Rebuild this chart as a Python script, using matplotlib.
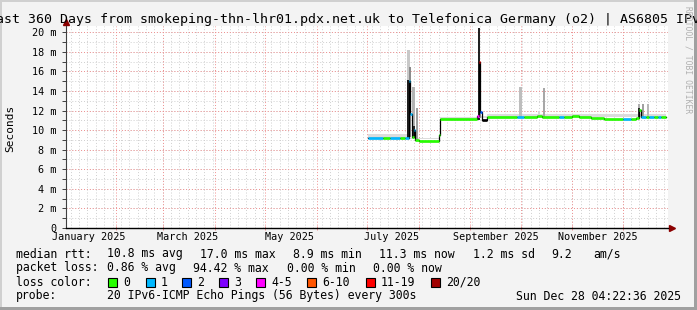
import numpy as np
import matplotlib.pyplot as plt
import matplotlib.dates as mdates
from matplotlib.patches import Rectangle
from datetime import datetime, timedelta

W, H = 697, 310
t_end = datetime(2025, 12, 28, 4, 22, 36)
t_start = t_end - timedelta(days=360)

# median rtt, drawn as steps: start date, value (ms), loss class (-1 = unknown)
med_dates = ["2025-07-02", "2025-07-11", "2025-07-15", "2025-07-21", "2025-07-24",
             "2025-07-26", "2025-07-27", "2025-07-28", "2025-07-29", "2025-07-30",
             "2025-08-01", "2025-08-13", "2025-08-14", "2025-09-05", "2025-09-06",
             "2025-09-07", "2025-09-08", "2025-09-11", "2025-09-29", "2025-10-03",
             "2025-10-11", "2025-10-14", "2025-10-24", "2025-10-27", "2025-11-01",
             "2025-11-05", "2025-11-12", "2025-11-20", "2025-12-01", "2025-12-06",
             "2025-12-09", "2025-12-11", "2025-12-12", "2025-12-15", "2025-12-17",
             "2025-12-20", "2025-12-22", "2025-12-24"]
med_ms = [9.2, 9.2, 9.2, 9.2, 9.2,
          15.0, 11.6, 9.3, 10.0, 9.0,
          8.9, 9.5, 11.1, 11.4, 17.0,
          11.9, 11.0, 11.3, 11.3, 11.3,
          11.4, 11.3, 11.3, 11.3, 11.4,
          11.3, 11.2, 11.1, 11.1, 11.1,
          11.2, 12.1, 11.3, 11.3, 11.3,
          11.3, 11.3, 11.3]
med_loss = [1, 0, 1, 0, 1,
            1, 1, 0, 1, 0,
            0, 0, 0, 4, 6,
            2, -1, 0, 1, 0,
            0, 0, 1, 0, 0,
            0, 0, 0, 1, 0,
            0, 0, 1, 0, 1,
            0, 1, 0]
med_last = "2025-12-27"

# smoke spikes: date, low and high (ms), grey level
smoke_dates = ["2025-07-26", "2025-07-26", "2025-07-27", "2025-07-29", "2025-07-29",
               "2025-07-31", "2025-09-06", "2025-09-07", "2025-10-01", "2025-10-12",
               "2025-10-15", "2025-12-11", "2025-12-11", "2025-12-13", "2025-12-16"]
smoke_lo = [9.2, 9.2, 9.3, 9.2, 9.2,
            9.0, 11.0, 11.2, 11.3, 11.3,
            11.3, 11.2, 11.2, 11.3, 11.3]
smoke_hi = [18.2, 15.1, 16.5, 14.4, 10.4,
            12.3, 20.4, 12.3, 14.4, 12.0,
            14.3, 12.7, 12.3, 12.7, 12.7]
smoke_shade = ["#c8c8c8", "#1e1e1e", "#8c8c8c", "#b4b4b4", "#2a2a2a",
               "#a0a0a0", "#222222", "#9a9a9a", "#bdbdbd", "#d8d8d8",
               "#a8a8a8", "#b0b0b0", "#2a2a2a", "#a0a0a0", "#b8b8b8"]

# faint smoke band just above the median
band_dates = ["2025-07-02", "2025-07-25", "2025-08-14", "2025-09-05", "2025-09-11", "2025-12-27"]
band_hi = [9.6, 9.1, 11.3, 11.2, 11.6, 11.5]

loss_labels = ["0", "1", "2", "3", "4-5", "6-10", "11-19", "20/20"]
loss_colors = ["#26ff00", "#00b8ff", "#0059ff", "#7e00ff", "#ff00ff", "#ff5500", "#ff0000", "#a10000"]

y_major = list(range(0, 21, 2))
y_labels = ["0"] + ["%d m" % v for v in y_major[1:]]
month_labels = ["January 2025", "March 2025", "May 2025", "July 2025", "September 2025", "November 2025"]
month_label_dates = ["2025-01-16", "2025-03-16", "2025-05-16", "2025-07-16", "2025-09-16", "2025-11-16"]

plt.rcParams['font.family'] = ['DejaVu Sans Mono']

def d(s):
    return datetime.strptime(s, "%Y-%m-%d")

def px(x, y):
    return x / W, 1 - y / H

fig = plt.figure(figsize=(W / 100, H / 100), dpi=100)
fig.patch.set_facecolor("#f3f3f3")
ax = fig.add_axes([66 / W, (H - 228) / H, (668 - 66) / W, (228 - 26) / H])
ax.set_facecolor("white")
ax.set_xlim(t_start, t_end)
ax.set_ylim(0, 20.64)

# grid
for v in range(1, 21):
    ax.axhline(v, color="#cfcfcf", lw=0.7, ls=(0, (1, 2)), zorder=0)
minor_days = mdates.drange(datetime(2025, 1, 5), t_end, timedelta(days=5))
for w in minor_days:
    ax.axvline(w, color="#cfcfcf", lw=0.7, ls=(0, (1, 2)), zorder=0)
for v in y_major[1:]:
    ax.axhline(v, color="#f09090", lw=0.7, ls=(0, (1, 2)), zorder=0.5)
months = [datetime(2025, m, 1) for m in range(2, 13)]
for m in months:
    ax.axvline(m, color="#f09090", lw=0.7, ls=(0, (1, 2)), zorder=0.5)

# smoke
bd = [d(s) for s in band_dates]
for i in range(len(bd) - 1):
    lo = med_ms[[j for j, s in enumerate(med_dates) if d(s) <= bd[i]][-1]]
    ax.fill_between([bd[i], bd[i + 1]], lo, band_hi[i], color="#dcdcdc", lw=0, zorder=1)
for s, lo, hi, c in zip(smoke_dates, smoke_lo, smoke_hi, smoke_shade):
    ax.bar(d(s), hi - lo, bottom=lo, width=1.3, color=c, lw=0, zorder=2)

# median
md = [d(s) for s in med_dates] + [d(med_last)]
ax.step(md, med_ms + [med_ms[-1]], where="post", color="black", lw=0.9, zorder=3)
for i in range(len(med_ms)):
    c = "black" if med_loss[i] < 0 else loss_colors[med_loss[i]]
    ax.hlines(med_ms[i], md[i], md[i + 1], color=c, lw=1.9, zorder=4)

# axes
for sp in ["top", "right"]:
    ax.spines[sp].set_visible(False)
ax.spines["left"].set_color("#404040")
ax.spines["bottom"].set_color("black")
ax.spines["left"].set_linewidth(0.8)
ax.spines["bottom"].set_linewidth(1.0)
ax.set_yticks(y_major)
ax.set_yticklabels(y_labels, fontsize=7.3)
ax.set_yticks(range(1, 21, 2), minor=True)
ax.tick_params(axis="y", which="both", length=3, width=0.7, pad=4, color="#404040")
ax.set_xticks(months)
ax.set_xticklabels([])
ax.tick_params(axis="x", length=3, width=0.7, direction="inout", color="#f09090")
for lab, s in zip(month_labels, month_label_dates):
    ax.text(d(s), -0.043, lab, transform=ax.get_xaxis_transform(), ha="center", va="center", fontsize=7.3)
ax.plot([0], [1.02], marker="^", color="#8b0000", ms=5, transform=ax.transAxes, clip_on=False)
ax.plot([1.006], [0], marker=">", color="#8b0000", ms=5, transform=ax.transAxes, clip_on=False)

# titles
fig.text(*px(348.5, 19), "Last 360 Days from smokeping-thn-lhr01.pdx.net.uk to Telefonica Germany (o2) | AS6805 IPv6",
         ha="center", va="center", fontsize=9.5)
fig.text(*px(10, 128), "Seconds", rotation=90, ha="center", va="center", fontsize=8)
fig.text(*px(688, 60), "RRDTOOL / TOBI OETIKER", rotation=270, ha="center", va="center", fontsize=5.8, color="#b0b0b0")

# legend
fs = 8.3
rows = [254, 268, 282, 296]
fig.text(*px(16, rows[0]), "median rtt:", va="center", fontsize=fs)
for x, t in zip([107, 200, 293, 379, 473, 551, 593],
                ["10.8 ms avg", "17.0 ms max", "8.9 ms min", "11.3 ms now", "1.2 ms sd", "9.2", "am/s"]):
    fig.text(*px(x, rows[0]), t, va="center", fontsize=fs)
fig.text(*px(16, rows[1]), "packet loss:", va="center", fontsize=fs)
for x, t in zip([107, 193, 287, 373], ["0.86 % avg", "94.42 % max", "0.00 % min", "0.00 % now"]):
    fig.text(*px(x, rows[1]), t, va="center", fontsize=fs)
fig.text(*px(16, rows[2]), "loss color:", va="center", fontsize=fs)
box_x = [108, 146, 182, 219, 256, 307, 366, 431]
for bx, lab, c in zip(box_x, loss_labels, loss_colors):
    fig.patches.append(Rectangle(px(bx, rows[2] + 4.5), 8.5 / W, 8.5 / H, transform=fig.transFigure,
                                 facecolor=c, edgecolor="black", lw=0.8))
    fig.text(*px(bx + 15, rows[2]), lab, va="center", fontsize=fs)
fig.text(*px(16, rows[3]), "probe:", va="center", fontsize=fs)
fig.text(*px(107, rows[3]), "20 IPv6-ICMP Echo Pings (56 Bytes) every 300s", va="center", fontsize=fs)
fig.text(*px(681, rows[3]), "Sun Dec 28 04:22:36 2025", ha="right", va="center", fontsize=fs)

# 3d frame
fig.patches.append(Rectangle((0, 0), 2 / W, 1, transform=fig.transFigure, color="#d0d0d0", lw=0))
fig.patches.append(Rectangle((0, 1 - 2 / H), 1, 2 / H, transform=fig.transFigure, color="#d0d0d0", lw=0))
fig.patches.append(Rectangle((1 - 3 / W, 0), 3 / W, 1, transform=fig.transFigure, color="#a0a0a0", lw=0))
fig.patches.append(Rectangle((0, 0), 1, 3 / H, transform=fig.transFigure, color="#a0a0a0", lw=0))

fig.savefig("out.png", dpi=100, facecolor=fig.get_facecolor())
